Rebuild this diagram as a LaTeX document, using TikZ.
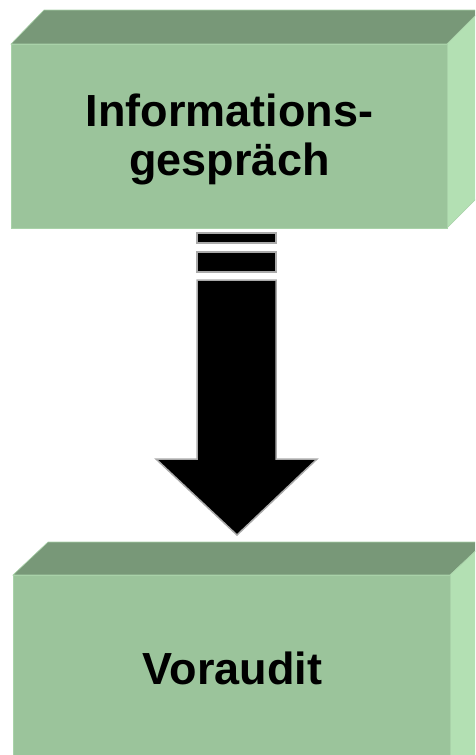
\documentclass[tikz,border=0pt]{standalone}
\usepackage{fontspec}
\setmainfont{Liberation Sans}
\definecolor{frontc}{HTML}{9BC49B}
\definecolor{topc}{HTML}{789878}
\definecolor{sidec}{HTML}{B3E0B3}
\definecolor{edgec}{HTML}{A9D2A9}
\definecolor{arrowedge}{HTML}{AAAAAA}
\begin{document}
\begin{tikzpicture}[x=1pt,y=-1pt,
  frontface/.style={fill=frontc, draw=edgec, line width=1pt},
  topface/.style={fill=topc, draw=edgec, line width=0.6pt},
  sideface/.style={fill=sidec, draw=edgec, line width=0.6pt},
  arrowpart/.style={fill=black, draw=arrowedge, line width=1.5pt, line join=miter},
  lbl/.style={font=\bfseries\fontsize{45}{50}\selectfont, inner sep=0pt, text=black}]
\useasboundingbox (0,0) rectangle (475,755);
\begin{scope}
\clip (0,0) rectangle (475,755);
% top box
\path[topface] (11,44) -- (44,10) -- (481,10) -- (447,44) -- cycle;
\path[sideface] (447,44) -- (481,10) -- (481,194) -- (447,228) -- cycle;
\path[frontface] (11,44) rectangle (447,228);
% bottom box
\path[topface] (13,575) -- (48,542) -- (485,542) -- (450,575) -- cycle;
\path[sideface] (450,575) -- (485,542) -- (485,760) -- (450,790) -- cycle;
\path[frontface] (13,575) rectangle (450,770);
\end{scope}
% arrow
\path[arrowpart] (197,233) rectangle (276,243);
\path[arrowpart] (197,252) rectangle (276,272);
\path[arrowpart] (197,280) -- (276,280) -- (276,459) -- (317,459) -- (237,535) -- (156,459) -- (197,459) -- cycle;
% labels
\node[lbl, anchor=base] (info1) at (229.5,126) {Informations-};
\node[lbl, anchor=base] (info2) at (229.5,175) {gespräch};
\node[lbl, anchor=base] (vor) at (232.5,684) {Voraudit};
\end{tikzpicture}
\end{document}
